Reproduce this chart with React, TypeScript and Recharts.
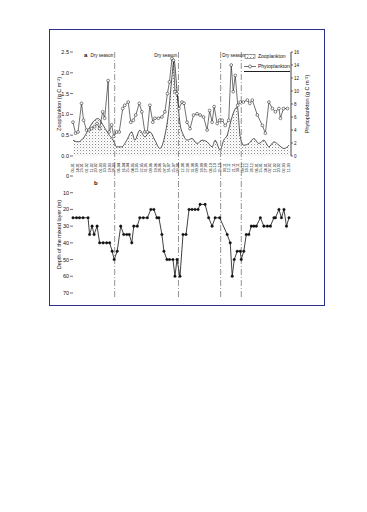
import React from "react";
import {
  ComposedChart,
  LineChart,
  Line,
  Area,
  XAxis,
  YAxis,
  ReferenceLine,
  Legend,
} from "recharts";

const FONT = '"Liberation Sans", Arial, Helvetica, sans-serif';

// sampling dates shown under panel a (day offset + label)
const tickDays = [
  0, 9, 18, 27, 37, 46, 55, 64, 73, 82, 91, 101, 110, 119, 128, 137, 146, 155,
  165, 174, 183, 192, 201, 210, 219, 229, 238, 247, 256, 265, 274, 283, 293,
  302, 311, 320, 329, 338, 347, 357, 366, 375, 384, 393, 402, 411, 421, 430,
];
const dateLabels = [
  "05.01", "14.01", "23.01", "01.02", "11.02", "20.02", "01.03", "10.03",
  "19.03", "28.03", "06.04", "16.04", "25.04", "04.05", "13.05", "22.05",
  "31.05", "09.06", "19.06", "28.06", "07.07", "16.07", "25.07", "03.08",
  "12.08", "22.08", "31.08", "09.09", "18.09", "27.09", "06.10", "15.10",
  "25.10", "03.11", "12.11", "21.11", "30.11", "09.12", "18.12", "28.12",
  "06.01", "15.01", "24.01", "02.02", "11.02", "20.02", "02.03", "11.03",
];

// dry season boundaries (day offset)
const seasonBreaks = [83, 210, 294, 335];

// zooplankton, g C m-2 (left axis)
const zooDays = [
  0, 10, 20, 30, 40, 50, 60, 70, 80, 87, 97, 107, 117, 123, 133, 143, 153, 163,
  173, 183, 190, 197, 201, 207, 213, 220, 227, 237, 247, 257, 267, 277, 283,
  293, 300, 307, 313, 320, 327, 333, 340, 350, 360, 370, 380, 390, 400, 410,
  420, 430,
];
const zooValues = [
  0.38, 0.34, 0.42, 0.62, 0.82, 0.9, 0.74, 0.54, 0.38, 0.22, 0.22, 0.38, 0.58,
  0.38, 0.62, 0.46, 0.58, 0.38, 0.18, 0.5, 1.02, 1.9, 2.3, 1.58, 0.78, 0.5,
  0.38, 0.42, 0.3, 0.38, 0.34, 0.22, 0.38, 0.14, 0.38, 0.5, 0.78, 1.06, 1.18,
  0.46, 0.26, 0.3, 0.42, 0.3, 0.38, 0.22, 0.34, 0.26, 0.18, 0.26,
];

// phytoplankton, g C m-2 (right axis)
const phytoDays = [
  0, 5, 10, 17, 21, 27, 32, 37, 43, 48, 53, 59, 63, 70, 72, 77, 81, 87, 92, 99,
  103, 110, 115, 120, 125, 132, 137, 143, 148, 153, 159, 163, 170, 177, 183,
  188, 192, 197, 200, 203, 207, 211, 217, 221, 227, 233, 240, 247, 253, 260,
  267, 272, 277, 281, 287, 292, 297, 303, 310, 315, 319, 323, 328, 333, 339,
  347, 352, 357, 367, 377, 383, 390, 397, 403, 410, 413, 419, 427,
];
const phytoValues = [
  5.2, 3.5, 3.7, 8.1, 5.5, 4.0, 4.0, 4.2, 4.5, 5.0, 4.2, 6.8, 5.8, 11.6, 3.7,
  4.8, 3.0, 3.7, 3.7, 7.3, 7.8, 8.3, 5.2, 5.5, 6.3, 8.1, 6.8, 3.7, 3.7, 7.8,
  5.2, 5.8, 5.8, 6.0, 6.8, 9.6, 11.4, 15.0, 14.7, 9.9, 9.6, 7.3, 8.3, 8.1, 5.2,
  4.2, 6.3, 6.5, 6.3, 6.0, 4.0, 7.0, 5.2, 7.6, 5.0, 5.5, 5.5, 4.7, 5.5, 14.0,
  9.9, 12.4, 7.8, 8.3, 8.3, 8.6, 8.1, 8.6, 6.3, 4.7, 3.5, 8.3, 7.3, 6.8, 7.3,
  5.8, 7.3, 7.3,
];

// depth of the mixed layer, m
const mldDays = [
  0, 7, 13, 20, 30, 33, 38, 42, 48, 53, 60, 67, 73, 78, 82, 88, 95, 101, 107,
  112, 117, 121, 128, 133, 140, 148, 155, 161, 167, 171, 177, 181, 187, 192,
  199, 203, 207, 213, 219, 225, 231, 237, 243, 249, 253, 263, 270, 277, 283,
  292, 307, 313, 317, 321, 327, 333, 335, 340, 345, 350, 355, 360, 365, 373,
  380, 387, 393, 400, 403, 410, 415, 420, 425, 430,
];
const mldValues = [
  25, 25, 25, 25, 25, 35, 30, 35, 30, 40, 40, 40, 40, 45, 50, 45, 30, 35, 35,
  35, 40, 30, 30, 25, 25, 25, 20, 20, 25, 25, 35, 45, 50, 50, 50, 60, 50, 60,
  35, 35, 20, 20, 20, 20, 17, 17, 25, 30, 25, 25, 35, 40, 60, 50, 45, 45, 50,
  45, 35, 35, 30, 30, 30, 25, 30, 30, 30, 25, 25, 20, 25, 20, 30, 25,
];

const leftTicks = [0, 0.5, 1, 1.5, 2, 2.5];
const rightTicks = [0, 2, 4, 6, 8, 10, 12, 14, 16];
const depthTicks = [0, 10, 20, 30, 40, 50, 60, 70];

const zooData = zooDays.map((day, i) => ({ day, zoo: zooValues[i] }));
const phytoData = phytoDays.map((day, i) => ({ day, phyto: phytoValues[i] }));
const mldData = mldDays.map((day, i) => ({ day, depth: mldValues[i] }));

const X_DOMAIN = [0, 434];
const tickStyle = { fill: "#111", fontSize: 5.5, fontFamily: FONT };

function DateTick(props: any) {
  const { x, y, payload } = props;
  const label = dateLabels[tickDays.indexOf(payload.value)];
  return (
    <text
      x={x}
      y={y}
      transform={`rotate(-90 ${x} ${y})`}
      textAnchor="end"
      dominantBaseline="central"
      fontSize={3.8}
      fontFamily={FONT}
      fill="#111"
    >
      {label}
    </text>
  );
}

// rotated axis title, centred on the axis box
function axisTitle(text: string, dx: number) {
  return (props: any) => {
    const vb = props.viewBox;
    if (!vb) return null;
    const x = vb.x + dx;
    const y = vb.y + vb.height / 2;
    return (
      <text
        x={x}
        y={y}
        transform={`rotate(-90 ${x} ${y})`}
        textAnchor="middle"
        dominantBaseline="central"
        fontSize={5.5}
        fontFamily={FONT}
        fill="#111"
      >
        {text}
      </text>
    );
  };
}

// dashed season divider, stretched past the plot so both panels join up
function divider(up: number, down: number) {
  return (props: any) => {
    const top = Math.min(props.y1, props.y2) - up;
    const bottom = Math.max(props.y1, props.y2) + down;
    return (
      <line
        x1={props.x1}
        x2={props.x2}
        y1={top}
        y2={bottom}
        stroke="#777"
        strokeWidth={0.8}
        strokeDasharray="6 2 1 2"
      />
    );
  };
}

function PlanktonLegend() {
  return (
    <div
      style={{
        fontFamily: FONT,
        fontSize: 5,
        color: "#111",
        lineHeight: "10px",
        borderBottom: "1px solid #222",
        paddingBottom: 0,
      }}
    >
      <div style={{ display: "flex", alignItems: "center" }}>
        <svg width={12} height={5} style={{ marginRight: 2 }}>
          <rect x={1} y={0.5} width={10} height={4} fill="url(#zooHatch)" stroke="#444" strokeWidth={0.5} />
        </svg>
        Zooplankton
      </div>
      <div style={{ display: "flex", alignItems: "center" }}>
        <svg width={12} height={5} style={{ marginRight: 2 }}>
          <line x1={0} x2={12} y1={2.5} y2={2.5} stroke="#111" strokeWidth={0.6} />
          <circle cx={6} cy={2.5} r={1.5} fill="#fff" stroke="#111" strokeWidth={0.5} />
        </svg>
        Phytoplankton
      </div>
    </div>
  );
}

const tag = (left: number, top: number, text: string) => (
  <div
    style={{
      position: "absolute",
      left,
      top,
      fontFamily: FONT,
      fontSize: 6,
      fontWeight: "bold",
      color: "#111",
    }}
  >
    {text}
  </div>
);

export default function App() {
  return (
    <div
      style={{
        position: "absolute",
        left: 49,
        top: 29,
        width: 274,
        height: 275,
        border: "1px solid #2e2e8c",
        background: "#fff",
      }}
    >
      <ComposedChart
        width={276}
        height={150}
        margin={{ top: 22, right: 0, left: 0, bottom: 0 }}
        style={{ position: "absolute", left: 0, top: 0 }}
      >
        <defs>
          <pattern id="zooHatch" width={3} height={3} patternUnits="userSpaceOnUse">
            <rect width={3} height={3} fill="#fff" />
            <rect width={1} height={1} fill="#8a8a8a" />
            <rect x={1.5} y={1.5} width={0.8} height={0.8} fill="#b0b0b0" />
          </pattern>
        </defs>
        <XAxis
          dataKey="day"
          type="number"
          domain={X_DOMAIN}
          ticks={tickDays}
          interval={0}
          height={24}
          axisLine={false}
          tickLine={false}
          tickMargin={1}
          tick={<DateTick />}
        />
        <YAxis
          yAxisId="left"
          domain={[0, 2.5]}
          ticks={leftTicks}
          width={23}
          axisLine={false}
          tickLine={{ stroke: "#111", strokeWidth: 0.6 }}
          tickSize={3}
          tickMargin={1}
          tick={tickStyle}
          tickFormatter={(v) => v.toFixed(1)}
          label={{ content: axisTitle("Zooplankton (g C m\u207B\u00B2)", 9) }}
        />
        <YAxis
          yAxisId="right"
          orientation="right"
          domain={[0, 16]}
          ticks={rightTicks}
          width={35}
          axisLine={{ stroke: "#111", strokeWidth: 0.8 }}
          tickLine={{ stroke: "#111", strokeWidth: 0.6 }}
          tickSize={2}
          tickMargin={1}
          tick={{ ...tickStyle, fontSize: 4.5 }}
          label={{ content: axisTitle("Phytoplankton (g C m\u207B\u00B2)", 16) }}
        />
        {seasonBreaks.map((d, i) => (
          <ReferenceLine
            key={d}
            yAxisId="left"
            x={d}
            shape={divider(0, 14)}
            label={
              i === 3
                ? undefined
                : {
                    value: "Dry season",
                    position: i === 2 ? "insideTopLeft" : "insideTopRight",
                    offset: 1.5,
                    fontSize: 4.5,
                    fontFamily: FONT,
                    fill: "#111",
                  }
            }
          />
        ))}
        <Area
          yAxisId="left"
          data={zooData}
          dataKey="zoo"
          name="Zooplankton"
          type="monotone"
          stroke="#111"
          strokeWidth={0.7}
          fill="url(#zooHatch)"
          fillOpacity={1}
          isAnimationActive={false}
        />
        <Line
          yAxisId="right"
          data={phytoData}
          dataKey="phyto"
          name="Phytoplankton"
          type="linear"
          stroke="#111"
          strokeWidth={0.6}
          dot={{ r: 1.4, fill: "#fff", stroke: "#111", strokeWidth: 0.5 }}
          isAnimationActive={false}
        />
        <Legend
          verticalAlign="middle"
          content={<PlanktonLegend />}
          wrapperStyle={{ position: "absolute", left: 194, top: 21, width: 46 }}
        />
      </ComposedChart>

      <LineChart
        width={276}
        height={135}
        margin={{ top: 6, right: 35, left: 0, bottom: 12 }}
        style={{ position: "absolute", left: 0, top: 140 }}
      >
        <XAxis dataKey="day" type="number" domain={X_DOMAIN} hide />
        <YAxis
          domain={[0, 70]}
          ticks={depthTicks}
          reversed
          width={23}
          axisLine={false}
          tickLine={{ stroke: "#111", strokeWidth: 0.6 }}
          tickSize={3}
          tickMargin={1}
          tick={tickStyle}
          label={{ content: axisTitle("Depth of the mixed layer (m)", 9) }}
        />
        {seasonBreaks.map((d) => (
          <ReferenceLine key={d} x={d} shape={divider(6, 4)} />
        ))}
        <Line
          data={mldData}
          dataKey="depth"
          type="linear"
          stroke="#111"
          strokeWidth={0.8}
          dot={{ r: 1.3, fill: "#111", stroke: "#111", strokeWidth: 0.3 }}
          isAnimationActive={false}
        />
      </LineChart>

      {tag(34, 22, "a")}
      {tag(44, 150, "b")}
    </div>
  );
}
